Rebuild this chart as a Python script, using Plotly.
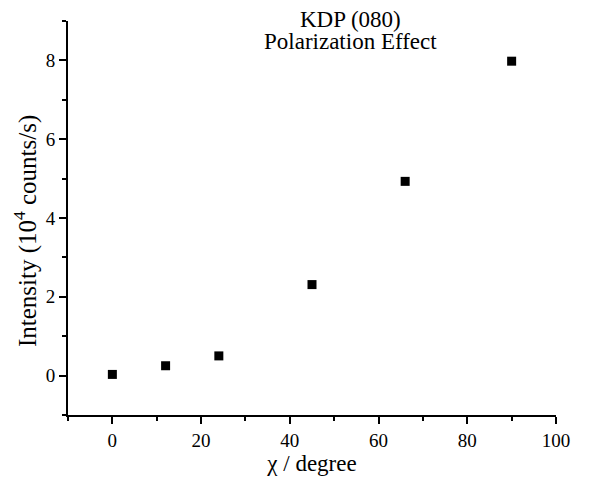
"""KDP (080) polarization effect scatter."""

import plotly.graph_objects as go

chi_deg = [0, 12, 24, 45, 66, 90]
intensity = [0.03, 0.25, 0.5, 2.31, 4.93, 7.98]

FONT = "Liberation Serif"

fig = go.Figure(
    go.Scatter(
        x=chi_deg,
        y=intensity,
        mode="markers",
        marker=dict(symbol="square", size=9, color="black"),
        showlegend=False,
    )
)

axis_common = dict(
    showline=True,
    linecolor="black",
    linewidth=2,
    showgrid=False,
    zeroline=False,
    ticks="outside",
    ticklen=7,
    tickwidth=1.5,
    tickcolor="black",
    tickfont=dict(family=FONT, size=19, color="black"),
    mirror=False,
    automargin=False,
)


def text_note(text, x, y, size, angle=0):
    return dict(
        text=text,
        x=x,
        y=y,
        xref="paper",
        yref="paper",
        xanchor="center",
        yanchor="middle",
        textangle=angle,
        showarrow=False,
        font=dict(family=FONT, size=size, color="black"),
    )


# page body adds an 8px offset, so the figure is a little smaller than the window
fig.update_layout(
    width=595,
    height=473,
    plot_bgcolor="white",
    paper_bgcolor="white",
    margin=dict(l=60, r=47, t=13, b=66),
    font=dict(family=FONT, color="black"),
    xaxis=dict(
        axis_common,
        range=[-10, 100],
        tick0=0,
        dtick=20,
        minor=dict(ticks="outside", ticklen=4, tickwidth=1.5, tickcolor="black", dtick=10, tick0=0),
        title=dict(text="χ / degree", font=dict(family=FONT, size=23), standoff=2),
    ),
    yaxis=dict(
        axis_common,
        range=[-1, 9],
        tick0=0,
        dtick=2,
        minor=dict(ticks="outside", ticklen=4, tickwidth=1.5, tickcolor="black", dtick=1, tick0=0),
    ),
    annotations=[
        text_note("KDP (080)", 0.578, 1.003, 23),
        text_note("Polarization Effect", 0.578, 0.947, 23),
        text_note("Intensity (10<sup>4</sup> counts/s)", -0.088, 0.467, 25, angle=-90),
    ],
)

fig.write_html("out.html")
